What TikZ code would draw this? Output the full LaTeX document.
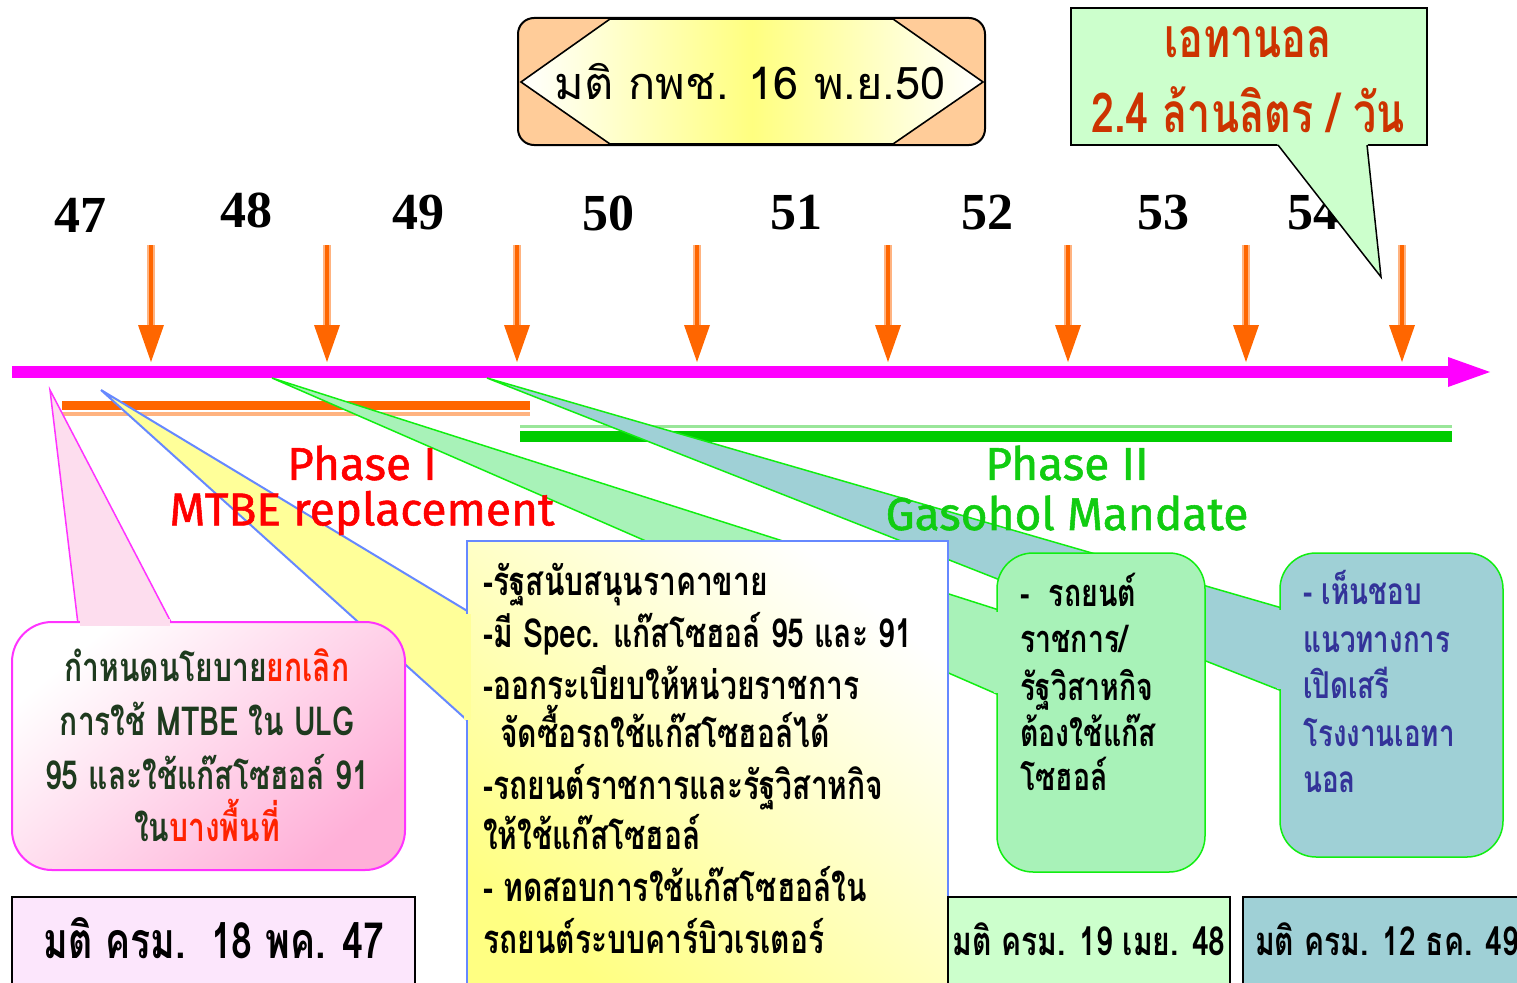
\documentclass[tikz,border=0pt]{standalone}
\usepackage{fontspec}
\setmainfont{Liberation Serif}
\newfontfamily\thai[Script=Thai]{Loma}
\newfontfamily\thaiN[Script=Thai,FakeStretch=0.75]{Loma}
\newfontfamily\phasefont[FakeBold=1.2]{Fira Sans}
\usetikzlibrary{calc}
\definecolor{peach}{HTML}{FFCC99}
\definecolor{bannerY}{HTML}{FFFF80}
\definecolor{callgreen}{HTML}{CCFFCC}
\definecolor{callred}{HTML}{CC3300}
\definecolor{tlorange}{HTML}{FF6600}
\definecolor{tlorangeL}{HTML}{FFB380}
\definecolor{tlmag}{HTML}{FF00FF}
\definecolor{tlgreen}{HTML}{00CC00}
\definecolor{tlgreenL}{HTML}{99E699}
\definecolor{lgfill}{HTML}{A8F2B8}
\definecolor{tealfill}{HTML}{9FD0D6}
\definecolor{ylw}{HTML}{FFFF99}
\definecolor{bluebd}{HTML}{6688FF}
\definecolor{pinkfill}{HTML}{FFB0D8}
\definecolor{pinktail}{HTML}{FDDDEE}
\definecolor{pinklt}{HTML}{FCE6FC}
\definecolor{magbd}{HTML}{FF33FF}
\definecolor{greenbd}{HTML}{11EE11}
\definecolor{navytx}{HTML}{333399}
\definecolor{dkgreen}{HTML}{1E3A1E}
\definecolor{redtx}{HTML}{FF2200}
\definecolor{phasered}{HTML}{FF0000}
\definecolor{phasegreen}{HTML}{11CC11}
\begin{document}
\begin{tikzpicture}[x=1pt,y=-1pt,line join=miter,
  yr/.style={font=\bfseries\fontsize{52}{52}\selectfont, inner sep=0pt},
  thtxt/.style={font=\thaiN\bfseries\fontsize{40}{44}\selectfont, inner sep=0pt, anchor=base west},
  thctr/.style={font=\thaiN\bfseries\fontsize{40}{44}\selectfont, inner sep=0pt, anchor=base},
  phase/.style={font=\phasefont\fontsize{46}{46}\selectfont, inner sep=0pt},
  dec/.style={font=\thaiN\bfseries\fontsize{50}{50}\selectfont, inner sep=0pt, anchor=base}]
\useasboundingbox (0,0) rectangle (1517,982);
\clip (0,0) rectangle (1517,982);
\fill[white] (0,0) rectangle (1517,982);

% ---------- banner ----------
\draw[line width=2pt, fill=peach, rounded corners=16pt] (518,18) rectangle (985,145);
\coordinate (hexL) at (521,82);
\coordinate (hexR) at (983,82);
\draw[line width=1.6pt, left color=white, right color=white, middle color=bannerY]
  (hexL) -- (610,19) -- (893,19) -- (hexR) -- (893,144) -- (610,144) -- cycle;
\node[font=\thai\fontsize{45}{45}\selectfont, inner sep=0pt] (banner) at (750,82) {มติ กพช. 16 พ.ย.50};

% ---------- year labels ----------
\node[yr] (y47) at (80,215) {47};
\node[yr] (y48) at (246,210) {48};
\node[yr] (y49) at (418,213) {49};
\node[yr] (y50) at (608,213) {50};
\node[yr] (y51) at (796,213) {51};
\node[yr] (y52) at (987,213) {52};
\node[yr] (y53) at (1163,213) {53};
\node[yr] (y54) at (1313,213) {54};

% ---------- orange arrows ----------
\foreach \x [count=\i] in {151,327,517,697,888,1068,1246,1402} {
  \coordinate (ar\i) at (\x,245);
  \coordinate (tip\i) at (\x,362);
  \draw[tlorangeL, line width=8pt] (ar\i) -- ++(0,85);
  \draw[tlorange, line width=3.5pt] (ar\i) -- ++(0,85);
  \fill[tlorange] (\x-13,325) -- (\x+13,325) -- (tip\i) -- cycle;
}

% ---------- timeline ----------
\coordinate (tlS) at (12,372);
\coordinate (tlE) at (1452,372);
\coordinate (tlTip) at (1490,372);
\draw[tlmag, line width=12pt] (tlS) -- (tlE);
\fill[tlmag] (1448,357) -- (tlTip) -- (1448,387) -- cycle;

% ---------- phase bars ----------
\fill[tlorange] (62,401) rectangle (530,410);
\fill[tlorangeL] (62,412) rectangle (530,416);
\fill[tlgreenL] (520,425) rectangle (1452,428);
\fill[tlgreen] (520,431) rectangle (1452,442);

% ---------- apex coordinates ----------
\coordinate (apPink) at (50,390);
\coordinate (apY) at (101,390);
\coordinate (apLG) at (272,378);
\coordinate (apT) at (487,378);

% ---------- tails ----------
\draw[greenbd, line width=1.5pt, fill=tealfill] (apT) -- (1282,608) -- (1282,691) -- cycle;
\draw[greenbd, line width=1.5pt, fill=lgfill] (apLG) -- (999,610) -- (999,695) -- cycle;
\draw[bluebd, line width=2pt, fill=ylw] (apY) -- (469,612) -- (469,722) -- cycle;
\draw[magbd, line width=1.5pt, fill=pinktail] (apPink) -- (78,624) -- (172,624) -- cycle;

% ---------- phase texts ----------
\node[phase, text=phasered] (ph1) at (362,463) {Phase I};
\node[phase, text=phasered] (ph1b) at (362,513) {MTBE replacement};
\node[phase, text=phasegreen] (ph2) at (1067,463) {Phase II};
\node[phase, text=phasegreen] (ph2b) at (1067,513) {Gasohol Mandate};

% ---------- yellow box ----------
\draw[bluebd, line width=2pt, top color=white, middle color=ylw, bottom color=ylw!85!yellow, shading angle=-40]
  (467,541) rectangle (948,1000);
\fill[ylw] (464,614) rectangle (471,720);
\node[thtxt] (ya) at (483,595) {-รัฐสนับสนุนราคาขาย};
\node[thtxt] (yb) at (483,647) {-มี Spec. แก๊สโซฮอล์ 95 และ 91};
\node[thtxt] (yc) at (483,699) {-ออกระเบียบให้หน่วยราชการ};
\node[thtxt] (yd) at (500,747) {จัดซื้อรถใช้แก๊สโซฮอล์ได้};
\node[thtxt] (ye) at (483,799) {-รถยนต์ราชการและรัฐวิสาหกิจ};
\node[thtxt] (yf) at (483,849) {ให้ใช้แก๊สโซฮอล์};
\node[thtxt] (yg) at (483,901) {- ทดสอบการใช้แก๊สโซฮอล์ใน};
\node[thtxt] (yh) at (483,953) {รถยนต์ระบบคาร์บิวเรเตอร์};

% ---------- light green box ----------
\draw[greenbd, line width=1.5pt, fill=lgfill, rounded corners=36pt] (997,553) rectangle (1205,872);
\fill[lgfill] (994,612) rectangle (1001,693);
\node[thtxt, font=\thaiN\bfseries\fontsize{38}{40}\selectfont] (ga) at (1020,606) {-\ \ รถยนต์};
\node[thtxt, font=\thaiN\bfseries\fontsize{38}{40}\selectfont] (gb) at (1020,652) {ราชการ/};
\node[thtxt, font=\thaiN\bfseries\fontsize{38}{40}\selectfont] (gc) at (1020,700) {รัฐวิสาหกิจ};
\node[thtxt, font=\thaiN\bfseries\fontsize{38}{40}\selectfont] (gd) at (1020,746) {ต้องใช้แก๊ส};
\node[thtxt, font=\thaiN\bfseries\fontsize{38}{40}\selectfont] (ge) at (1020,790) {โซฮอล์};

% ---------- teal box ----------
\draw[greenbd, line width=1.5pt, fill=tealfill, rounded corners=36pt] (1280,553) rectangle (1503,857);
\fill[tealfill] (1277,610) rectangle (1284,689);
\node[thtxt, text=navytx, font=\thaiN\bfseries\fontsize{37}{40}\selectfont] (ta) at (1303,604) {- เห็นชอบ};
\node[thtxt, text=navytx, font=\thaiN\bfseries\fontsize{37}{40}\selectfont] (tb) at (1303,652) {แนวทางการ};
\node[thtxt, text=navytx, font=\thaiN\bfseries\fontsize{37}{40}\selectfont] (tc) at (1303,698) {เปิดเสรี};
\node[thtxt, text=navytx, font=\thaiN\bfseries\fontsize{37}{40}\selectfont] (td) at (1303,746) {โรงงานเอทา};
\node[thtxt, text=navytx, font=\thaiN\bfseries\fontsize{37}{40}\selectfont] (te) at (1303,792) {นอล};

% ---------- pink box ----------
\draw[magbd, line width=2pt, top color=white, bottom color=pinkfill, shading angle=40, rounded corners=40pt] (12,622) rectangle (405,870);
\fill[pinktail] (80,619) rectangle (170,626);
\node[thctr, text=dkgreen] (pa) at (207,681) {กำหนดนโยบาย{\color{redtx}ยกเลิก}};
\node[thctr, text=dkgreen] (pb) at (207,735) {การใช้ MTBE ใน ULG};
\node[thctr, text=dkgreen] (pc) at (207,789) {95 และใช้แก๊สโซฮอล์ 91};
\node[thctr, text=dkgreen] (pd) at (207,841) {ใน{\color{redtx}บางพื้นที่}};

% ---------- bottom decision boxes ----------
\draw[line width=2pt, fill=pinklt] (12,897) rectangle (415,1000);
\node[dec] (d47) at (214,958) {มติ ครม.\ \ 18 พค. 47};
\draw[line width=2pt, fill=callgreen] (948,897) rectangle (1230,1000);
\node[dec, font=\thaiN\bfseries\fontsize{40}{40}\selectfont] (d48) at (1089,955) {มติ ครม. 19 เมย. 48};
\draw[line width=2pt, fill=tealfill] (1243,897) rectangle (1530,1000);
\node[dec, font=\thaiN\bfseries\fontsize{40}{40}\selectfont, anchor=base west] (d49) at (1255,955) {มติ ครม. 12 ธค. 49};

% ---------- ethanol callout ----------
\draw[line width=1.5pt, fill=callgreen] (1071,8) rectangle (1427,145);
\coordinate (ethTip) at (1381,277);
\fill[callgreen] (1274,140) -- (ethTip) -- (1367.5,140) -- cycle;
\draw[line width=1.5pt] (1278,145) -- (ethTip) -- (1367,145);
\node[font=\thaiN\bfseries\fontsize{55}{55}\selectfont, text=callred, inner sep=0pt] (eth1) at (1248,42) {เอทานอล};
\node[font=\thaiN\bfseries\fontsize{55}{55}\selectfont, text=callred, inner sep=0pt] (eth2) at (1248,110) {2.4 ล้านลิตร / วัน};
\end{tikzpicture}
\end{document}
